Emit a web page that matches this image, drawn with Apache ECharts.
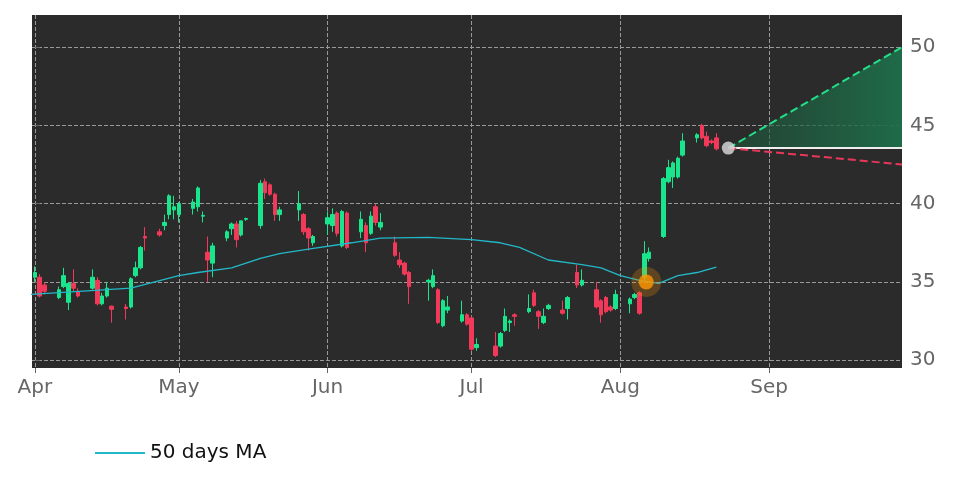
<!DOCTYPE html><html><head><meta charset="utf-8">
<script src="https://cdn.jsdelivr.net/npm/echarts@6/dist/echarts.min.js"></script>
<style>html,body{margin:0;background:#fff}#c{width:972px;height:486px}</style></head><body><div id="c"></div>
<script>
// day offsets from Apr 1
const monthTicks=[0,30,61,91,122,153];
const monthLabels=['Apr','May','Jun','Jul','Aug','Sep'];
const yTicks=[30,35,40,45,50];
// [day, open, close, low, high]
const candles=[
[0,35.3,35.6,35.0,36.0],[1,35.3,34.1,34.0,35.5],[2,34.8,34.4,34.2,35.0],
[5,34.0,34.5,33.9,34.7],[6,34.7,35.4,34.6,35.9],[7,33.7,34.9,33.2,35.0],[8,34.9,34.6,34.4,35.8],[9,34.4,34.1,34.0,34.6],
[12,34.6,35.3,34.5,35.8],[13,35.1,33.6,33.5,35.3],[14,33.6,34.1,33.5,34.3],[15,34.1,34.6,34.0,35.0],[16,33.45,33.25,32.4,33.5],
[19,33.4,33.3,32.6,33.6],[20,33.4,35.2,33.3,35.3],[21,35.4,35.9,35.3,36.3],[22,35.9,37.2,35.8,37.3],[23,37.9,37.8,37.0,38.5],
[26,38.2,38.0,37.9,38.4],[27,38.6,38.8,38.3,39.3],[28,39.3,40.5,39.0,40.6],[29,39.6,39.8,39.0,40.5],[30,39.3,40.0,38.8,40.1],
[33,39.7,40.1,39.3,40.3],[34,39.8,41.0,39.5,41.1],[35,39.2,39.25,38.8,39.5],[36,36.9,36.4,35.0,37.9],[37,36.2,37.3,35.3,37.5],
[40,37.8,38.2,37.6,38.3],[41,38.4,38.7,38.0,38.8],[42,38.7,37.7,37.2,38.9],[43,38.0,38.9,37.9,38.9],[44,39.0,39.05,38.9,39.1],
[47,38.6,41.3,38.4,41.5],[48,41.4,40.7,40.3,41.6],[49,41.2,40.6,40.5,41.3],[50,40.6,39.3,38.9,40.7],[51,39.3,39.6,38.9,39.8],
[55,39.6,40.0,38.9,40.8],[56,39.3,38.2,38.0,39.4],[57,38.4,37.8,37.0,38.5],[58,37.5,37.9,37.3,38.0],
[61,38.7,39.1,38.0,39.5],[62,38.6,39.3,38.2,39.7],[63,39.4,38.1,37.9,39.5],[64,37.3,39.5,37.2,39.6],[65,39.4,37.2,37.1,39.5],
[68,38.2,39.0,37.8,39.5],[69,38.6,37.5,36.9,38.8],[70,38.1,39.2,38.0,39.5],[71,39.8,38.8,38.6,40.0],[72,38.5,38.8,38.3,39.4],
[75,37.5,36.7,36.6,37.9],[76,36.4,36.1,35.9,36.9],[77,36.2,35.5,35.4,36.3],[78,35.6,34.7,33.6,35.7],
[82,35.0,35.1,33.8,35.2],[83,34.7,35.4,34.6,35.8],[84,34.5,32.4,32.3,34.6],[85,32.2,33.8,32.1,33.9],[86,33.2,33.4,33.0,34.1],
[89,32.5,32.9,32.4,33.8],[90,32.9,32.3,32.2,33.0],[91,32.7,30.7,30.6,32.8],[92,30.8,31.0,30.6,31.4],
[96,30.9,30.3,30.2,31.8],[97,30.9,31.7,30.8,31.8],[98,31.9,32.8,31.8,33.3],[99,32.4,32.5,31.8,32.6],[100,32.9,32.8,32.2,33.0],
[103,33.1,33.3,33.0,34.2],[104,34.3,33.5,33.4,34.5],[105,33.1,32.8,32.0,33.2],[106,32.4,32.8,32.3,33.3],[107,33.3,33.5,33.2,33.6],
[110,33.2,33.0,32.9,33.8],[111,33.3,34.0,32.6,34.1],[113,35.6,34.8,34.6,36.1],[114,34.8,35.1,34.7,35.8],
[117,34.5,33.4,33.3,35.0],[118,33.8,32.9,32.4,33.9],[119,34.0,33.1,33.0,34.1],[120,33.4,33.2,33.1,33.5],[121,33.3,34.2,33.2,34.5],
[124,33.6,33.9,33.0,34.0],[125,34.0,34.2,33.9,34.3],[126,34.3,33.0,32.9,34.4],[127,35.3,36.8,35.1,37.6],[128,36.5,36.9,36.3,37.2],
[131,37.9,41.6,37.8,41.7],[132,41.4,42.3,41.3,42.8],[133,41.7,42.6,41.0,42.7],[134,41.7,42.9,41.6,43.0],[135,43.1,44.0,43.0,44.5],
[138,44.2,44.4,43.9,44.5],[139,45.0,44.2,44.1,45.1],[140,44.3,43.7,43.6,44.6],[141,44.0,43.9,43.8,44.1],[142,44.2,43.5,43.4,44.5]
];
const maLine=[[-1,34.2],[20,34.6],[30,35.4],[34,35.6],[41,35.9],[47,36.5],[51,36.8],[57,37.1],[66,37.5],[72,37.8],[82,37.85],[91,37.7],[97,37.5],[101,37.2],[107,36.4],[114,36.1],[118,35.9],[122,35.4],[126,35.1],[130,34.9],[134,35.4],[138,35.6],[142,35.95]];
const signalPoint=[127.4,35.0];
const lastPoint=[144.5,43.55];
const projEnd=180.7;
const upTarget=50.0, downTarget=42.5;

const ch=echarts.init(document.getElementById('c'));
ch.setOption({
 animation:false,
 grid:{left:32,right:70,top:15,bottom:118,show:true,backgroundColor:'#2b2b2b',borderWidth:0},
 legend:{left:90,top:438,itemWidth:50,itemHeight:2,textStyle:{fontSize:20,color:'#111',fontFamily:'DejaVu Sans'},data:[{name:'50 days MA',icon:'rect'}]},
 xAxis:{type:'value',min:-0.6,max:projEnd,
  axisLine:{show:false},axisTick:{show:true,customValues:monthTicks,length:5,lineStyle:{color:'#666'}},
  axisLabel:{customValues:monthTicks,formatter:v=>monthLabels[monthTicks.indexOf(v)]||'',fontSize:20,color:'#666',margin:10,fontFamily:'DejaVu Sans'},
  splitLine:{show:true,customValues:monthTicks,lineStyle:{color:'#999',type:'dashed',width:1}}},
 yAxis:{type:'value',position:'right',min:29.5,max:52.05,
  axisLine:{show:false},axisTick:{show:true,customValues:yTicks,length:5,lineStyle:{color:'#666'}},
  axisLabel:{customValues:yTicks,fontSize:20,color:'#666',margin:8,fontFamily:'DejaVu Sans'},
  splitLine:{show:true,customValues:yTicks,lineStyle:{color:'#999',type:'dashed',width:1}}},
 series:[
  {type:'custom',silent:true,z:1,data:[[lastPoint[0],lastPoint[1],projEnd,upTarget]],
   renderItem:(p,api)=>{const a=api.coord([api.value(0),api.value(1)]),b=api.coord([api.value(2),api.value(3)]),c=api.coord([api.value(2),api.value(1)]);
    return {type:'polygon',shape:{points:[a,b,c]},style:{fill:new echarts.graphic.LinearGradient(1,0,0,0,[{offset:0,color:'rgba(30,110,75,0.95)'},{offset:1,color:'rgba(30,90,60,0.5)'}])}};}},
  {type:'candlestick',name:'price',barWidth:4,z:3,
   itemStyle:{color:'#19e68c',color0:'#f2395a',borderColor:'#19e68c',borderColor0:'#f2395a',borderWidth:1},
   data:candles.map(c=>[c[0],c[1],c[2],c[3],c[4]]),encode:{x:0,y:[1,2,3,4]}},
  {type:'line',name:'50 days MA',data:maLine,showSymbol:false,smooth:false,lineStyle:{color:'#22b8c8',width:1.3},itemStyle:{color:'#22b8c8'},z:4},
  {type:'line',data:[lastPoint,[projEnd,lastPoint[1]]],showSymbol:false,lineStyle:{color:'#eeeeee',width:2},z:5},
  {type:'line',data:[lastPoint,[projEnd,upTarget]],showSymbol:false,lineStyle:{color:'#22e08a',width:2,type:'dashed'},z:5},
  {type:'line',data:[lastPoint,[projEnd,downTarget]],showSymbol:false,lineStyle:{color:'#e8385a',width:2,type:'dashed'},z:5},
  {type:'scatter',data:[signalPoint],symbolSize:30,itemStyle:{color:'rgba(255,150,0,0.3)'},z:6},
  {type:'scatter',data:[signalPoint],symbolSize:15,itemStyle:{color:'#ff9900'},z:7},
  {type:'scatter',data:[lastPoint],symbolSize:13,itemStyle:{color:'#dddddd'},z:7}
 ]
});
</script></body></html>
